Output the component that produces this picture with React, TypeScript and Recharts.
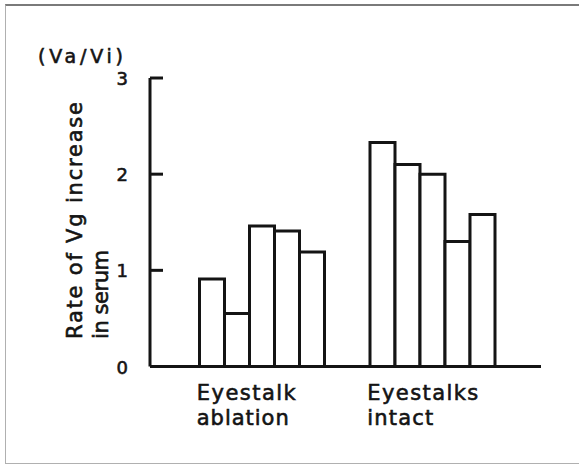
import React from 'react';
import { BarChart, Bar, XAxis, YAxis } from 'recharts';

const categories = ['Eyestalk ablation', 'Eyestalks intact'];
const categoryLines = [
  ['Eyestalk', 'ablation'],
  ['Eyestalks', 'intact'],
];
const seriesKeys = ['s1', 's2', 's3', 's4', 's5'];
const ablationValues = [0.91, 0.55, 1.46, 1.41, 1.19];
const intactValues = [2.33, 2.1, 2.0, 1.3, 1.58];
const yTicks = [0, 1, 2, 3];
const yUnit = '(Va/Vi)';
const yLabelLines = ['Rate of Vg increase', 'in serum'];

const groupValues = [ablationValues, intactValues];
const data = categories.map((c, i) => {
  const row: Record<string, any> = { category: c };
  seriesKeys.forEach((k, j) => {
    row[k] = groupValues[i][j];
  });
  return row;
});

const INK = '#141414';
const FONT = '"DejaVu Sans", Verdana, sans-serif';
const TEXT_STROKE = 0.6;
const catWidths = [
  [99, 92],
  [111, 66],
];

const XTick = (props: any) => {
  const { x, y, payload } = props;
  const idx = categories.indexOf(payload.value);
  const lines = categoryLines[idx] || [];
  return (
    <g>
      {lines.map((l, i) => (
        <text
          key={i}
          x={x - 64}
          y={y + 33 + i * 25}
          textAnchor="start"
          fontSize={21}
          fontFamily={FONT}
          fill={INK}
          stroke={INK}
          strokeWidth={TEXT_STROKE}
          textLength={catWidths[idx][i]}
          lengthAdjust="spacing"
        >
          {l}
        </text>
      ))}
    </g>
  );
};

const YTick = (props: any) => {
  const { x, y, payload } = props;
  return (
    <g>
      <line x1={x} x2={x + 13} y1={y} y2={y} stroke={INK} strokeWidth={3} />
      <text
        x={x - 22}
        y={y + 7}
        textAnchor="end"
        fontSize={18}
        fontFamily={FONT}
        fill={INK}
        stroke={INK}
        strokeWidth={TEXT_STROKE}
      >
        {payload.value}
      </text>
    </g>
  );
};

const YLabel = () => (
  <g>
    <text
      x={38}
      y={63}
      fontSize={19}
      fontFamily={FONT}
      fill={INK}
      stroke={INK}
      strokeWidth={TEXT_STROKE}
      textLength={85}
      lengthAdjust="spacing"
    >
      {yUnit}
    </text>
    <text
      x={81.5}
      y={339}
      transform="rotate(-90, 81.5, 339)"
      fontSize={21}
      fontFamily={FONT}
      fill={INK}
      stroke={INK}
      strokeWidth={TEXT_STROKE}
      textLength={237}
      lengthAdjust="spacing"
    >
      {yLabelLines[0]}
    </text>
    <text
      x={108}
      y={339}
      transform="rotate(-90, 108, 339)"
      fontSize={21}
      fontFamily={FONT}
      fill={INK}
      stroke={INK}
      strokeWidth={TEXT_STROKE}
      textLength={89}
      lengthAdjust="spacing"
    >
      {yLabelLines[1]}
    </text>
  </g>
);

export default function App() {
  return (
    <div
      style={{
        position: 'absolute',
        left: 0,
        top: 0,
        width: 579,
        height: 466,
        overflow: 'hidden',
        background: '#fff',
      }}
    >
      <div
        style={{
          position: 'absolute',
          left: 5,
          top: 4,
          width: 600,
          height: 457,
          borderTop: '2px solid #7a7a7a',
          borderLeft: '1px solid #b0b0b0',
          borderBottom: '1px solid #b0b0b0',
        }}
      />
      <div style={{ position: 'absolute', left: 0, top: 0 }}>
        <BarChart
          width={579}
          height={466}
          data={data}
          margin={{ top: 78, right: 38, left: 90, bottom: 29.5 }}
          barGap={0}
          barCategoryGap={24}
        >
          <XAxis
            dataKey="category"
            height={70}
            padding={{ left: 25.5, right: 24.5 }}
            axisLine={{ stroke: INK, strokeWidth: 3 }}
            tickLine={false}
            tickSize={0}
            tickMargin={0}
            tick={<XTick />}
            interval={0}
          />
          <YAxis
            width={60}
            domain={[0, 3]}
            ticks={yTicks}
            axisLine={{ stroke: INK, strokeWidth: 3 }}
            tickLine={false}
            tickSize={0}
            tickMargin={0}
            tick={<YTick />}
            label={{ content: () => <YLabel /> }}
          />
          {seriesKeys.map((k) => (
            <Bar
              key={k}
              dataKey={k}
              fill="#ffffff"
              stroke={INK}
              strokeWidth={3}
              isAnimationActive={false}
            />
          ))}
        </BarChart>
      </div>
    </div>
  );
}
